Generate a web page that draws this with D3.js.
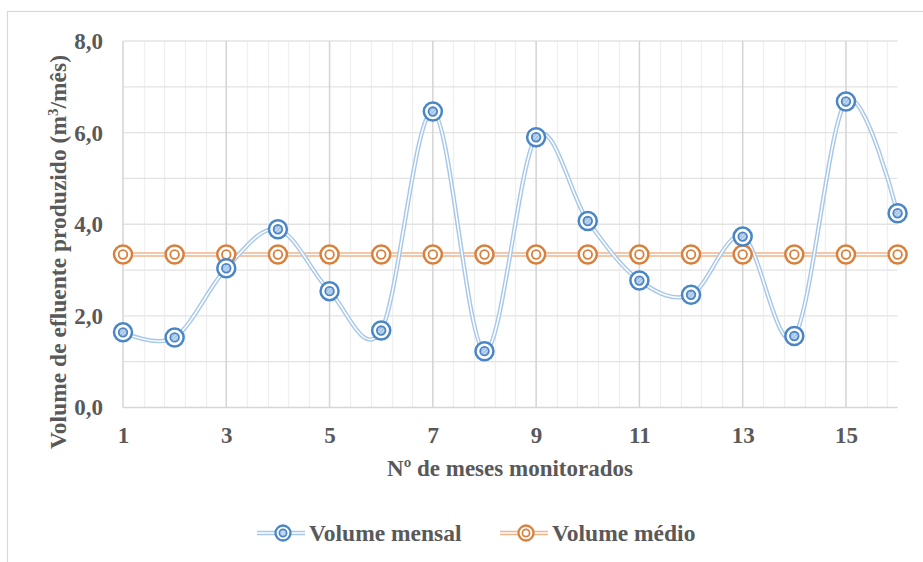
<!DOCTYPE html>
<html><head><meta charset="utf-8">
<script src="https://cdn.jsdelivr.net/npm/d3@7"></script>
<style>
html,body{margin:0;padding:0;background:#fff;}
svg{display:block;}
text{font-family:"Liberation Serif","Times New Roman",serif;font-weight:bold;fill:#595959;}
</style></head>
<body>
<svg id="chart" width="923" height="562"></svg>
<script>
const months = [1,2,3,4,5,6,7,8,9,10,11,12,13,14,15,16];
const volumeMensal = [1.64,1.53,3.04,3.89,2.54,1.68,6.46,1.23,5.90,4.07,2.77,2.46,3.73,1.56,6.68,4.24];
const volumeMedio = [3.34,3.34,3.34,3.34,3.34,3.34,3.34,3.34,3.34,3.34,3.34,3.34,3.34,3.34,3.34,3.34];
const xTicks = [1,3,5,7,9,11,13,15];
const yTicks = [0,2,4,6,8];
const seriesNames = ["Volume mensal","Volume médio"];
const xTitle = "Nº de meses monitorados";

const svg = d3.select("#chart");
const x = d3.scaleLinear().domain([1,16]).range([123,897.6]);
const y = d3.scaleLinear().domain([0,8]).range([407.5,41]);
const FS = "23px";

// outer border
svg.append("rect").attr("x",7.5).attr("y",11.5).attr("width",1000).attr("height",1000)
  .attr("fill","none").attr("stroke","#d9d9d9").attr("stroke-width",1.2);

const defs = svg.append("defs");
const pat = defs.append("pattern").attr("id","hatch").attr("patternUnits","userSpaceOnUse")
  .attr("width",2.5).attr("height",2.5).attr("patternTransform","rotate(45)");
pat.append("rect").attr("width",2.5).attr("height",2.5).attr("fill","#c3d8ee");
pat.append("line").attr("x1",0).attr("y1",0).attr("x2",0).attr("y2",2.5).attr("stroke","#6a9bd0").attr("stroke-width",0.9);

const grid = svg.append("g");
// minor vertical gridlines every 0.4
const minorX = d3.range(1, 16.001, 0.4).filter(v => Math.abs((v-1)/2 - Math.round((v-1)/2)) > 0.01);
grid.selectAll(".mvx").data(minorX).enter().append("line")
  .attr("x1",d=>Math.round(x(d))+0.5).attr("x2",d=>Math.round(x(d))+0.5)
  .attr("y1",y(8)).attr("y2",y(0)).attr("stroke","#efefef").attr("stroke-width",1.3);
// horizontal gridlines every 1
grid.selectAll(".hy").data(d3.range(1,9,1)).enter().append("line")
  .attr("x1",x(1)).attr("x2",x(16))
  .attr("y1",d=>y(d)).attr("y2",d=>y(d)).attr("stroke","#e3e3e3").attr("stroke-width",1.3);
// major vertical
grid.selectAll(".Mvx").data(xTicks).enter().append("line")
  .attr("x1",d=>x(d)).attr("x2",d=>x(d))
  .attr("y1",y(8)).attr("y2",y(0)).attr("stroke","#d4d4d4").attr("stroke-width",1.5);
// x axis line
grid.append("line").attr("x1",x(1)).attr("x2",x(16)).attr("y1",y(0)).attr("y2",y(0))
  .attr("stroke","#d6d6d6").attr("stroke-width",1.5);

// axes (labels only)
const xAxis = d3.axisBottom(x).tickValues(xTicks).tickSize(0).tickPadding(0).tickFormat(d3.format("d"));
const gx = svg.append("g").attr("transform",`translate(0,${y(0)+19})`).call(xAxis);
gx.select(".domain").remove();
gx.selectAll("text").attr("dy","0.71em").style("font-size",FS).attr("fill","#595959")
  .style("font-family","Liberation Serif").style("font-weight","bold");

const fmt = d => d3.format(".1f")(d).replace(".",",");
const yAxis = d3.axisLeft(y).tickValues(yTicks).tickSize(0).tickPadding(0).tickFormat(fmt);
const gy = svg.append("g").attr("transform",`translate(103,0)`).call(yAxis);
gy.select(".domain").remove();
gy.selectAll("text").style("font-size",FS).attr("fill","#595959")
  .style("font-family","Liberation Serif").style("font-weight","bold");

// titles
svg.append("text").attr("x",510).attr("y",476).attr("text-anchor","middle")
  .style("font-size",FS).text(xTitle);
const yt = svg.append("text").attr("transform","translate(66,252) rotate(-90)").attr("text-anchor","middle")
  .style("font-size","23.5px");
yt.append("tspan").text("Volume de efluente produzido (m");
yt.append("tspan").attr("dy",-8).style("font-size","15px").text("3");
yt.append("tspan").attr("dy",8).text("/mês)");

// lines
const line = d3.line().x((d,i)=>x(months[i])).y(d=>y(d)).curve(d3.curveCardinal.tension(0));
function doubleLine(data, color){
  svg.append("path").attr("d",line(data)).attr("fill","none").attr("stroke",color).attr("stroke-width",4.4);
  svg.append("path").attr("d",line(data)).attr("fill","none").attr("stroke","#fff").attr("stroke-width",1.5);
}
const blue = "#4a86c6", blueL = "#a8c8e9", orange = "#d9803c", orangeL = "#f3b58a";
doubleLine(volumeMedio, orangeL);
doubleLine(volumeMensal, blueL);

function markers(data, color, innerFill){
  const g = svg.append("g");
  const m = g.selectAll("g").data(data).enter().append("g")
    .attr("transform",(d,i)=>`translate(${x(months[i])},${y(d)})`);
  m.append("circle").attr("r",9).attr("fill","#fff").attr("stroke",color).attr("stroke-width",2.5);
  m.append("circle").attr("r",4.3).attr("fill",innerFill).attr("stroke",color).attr("stroke-width",1.8);
}
markers(volumeMedio, orange, "#fff");
markers(volumeMensal, blue, "url(#hatch)");

// legend
const legend = [
  {name:seriesNames[0], lc:blueL, mc:blue, fill:"url(#hatch)", x0:257},
  {name:seriesNames[1], lc:orangeL, mc:orange, fill:"#fff", x0:500}
];
legend.forEach(l=>{
  const g = svg.append("g").attr("transform",`translate(${l.x0},533)`);
  g.append("line").attr("x1",0).attr("x2",48).attr("stroke",l.lc).attr("stroke-width",4.4);
  g.append("line").attr("x1",0).attr("x2",48).attr("stroke","#fff").attr("stroke-width",1.5);
  g.append("circle").attr("cx",26).attr("r",7.5).attr("fill","#fff").attr("stroke",l.mc).attr("stroke-width",2.3);
  g.append("circle").attr("cx",26).attr("r",3.6).attr("fill",l.fill==="#fff"?"#fff":"#c3d8ee").attr("stroke",l.mc).attr("stroke-width",1.7);
  g.append("text").attr("x",52).attr("y",8).style("font-size","23.5px").text(l.name);
});
</script>
</body></html>
